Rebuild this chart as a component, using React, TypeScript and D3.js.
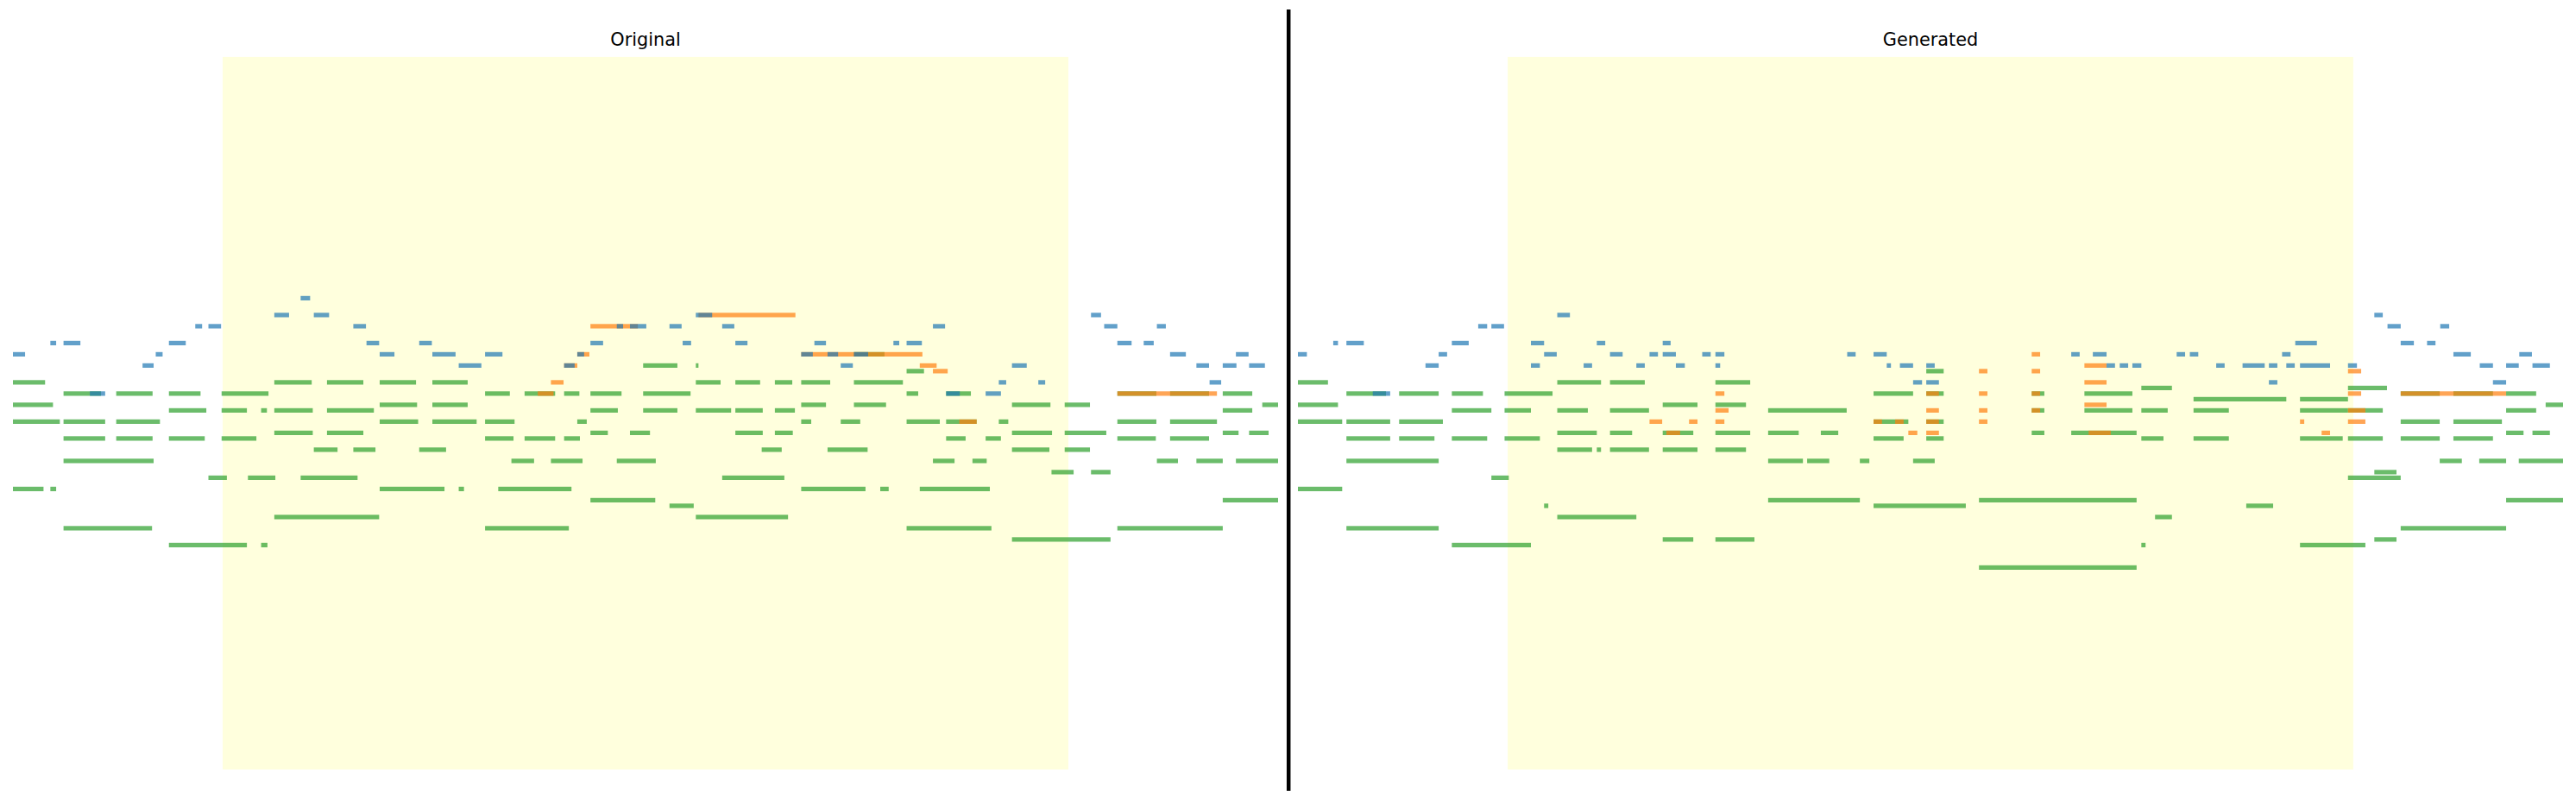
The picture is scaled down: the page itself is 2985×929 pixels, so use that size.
import React from "react";
import * as d3 from "d3";

// note = [midi pitch, start (beats), end (beats)]
type Note = [number, number, number];

const WIDTH = 2985;
const HEIGHT = 929;
const AXES = { top: 65.9, bottom: 891.4 };
const PITCH_RANGE: [number, number] = [0, 127];
const BAR_HEIGHT = 0.8; // in semitones

const TRACK_COLORS = { melody: "#1f77b4", counter: "#ff7f0e", piano: "#2ca02c" };

// ---------------- Original ----------------
const originalMelody: Note[] = [
  [84, 5.5, 5.68],
  [81, 5.0, 5.28], [81, 5.75, 6.04], [81, 13.0, 13.31], [81, 20.5, 20.69],
  [79, 3.5, 3.63], [79, 3.75, 3.99], [79, 6.5, 6.74], [79, 11.5, 11.62], [79, 11.75, 12.06],
  [79, 12.5, 12.73], [79, 13.5, 13.73], [79, 17.5, 17.73], [79, 20.75, 21.0], [79, 21.75, 21.92],
  [76, 0.75, 0.86], [76, 1.0, 1.32], [76, 3.0, 3.32], [76, 6.75, 6.99], [76, 7.75, 7.99],
  [76, 11.0, 11.24], [76, 12.75, 12.91], [76, 13.75, 13.98], [76, 15.25, 15.47], [76, 16.75, 16.86],
  [76, 17.0, 17.29], [76, 21.0, 21.27], [76, 21.5, 21.69],
  [74, 0.04, 0.27], [74, 2.75, 2.88], [74, 7.0, 7.28], [74, 8.0, 8.44], [74, 9.0, 9.33],
  [74, 10.75, 10.88], [74, 15.0, 15.22], [74, 15.5, 15.7], [74, 16.0, 16.27], [74, 22.0, 22.3],
  [74, 23.25, 23.49],
  [72, 2.5, 2.71], [72, 8.5, 8.93], [72, 10.5, 10.7], [72, 15.75, 15.98], [72, 19.0, 19.28],
  [72, 22.5, 22.74], [72, 23.0, 23.26], [72, 23.5, 23.8],
  [69, 18.75, 18.89], [69, 19.5, 19.63], [69, 22.75, 22.97],
  [67, 1.5, 1.79], [67, 17.75, 18.01], [67, 18.5, 18.79],
];

const originalCounter: Note[] = [
  [81, 13.05, 14.89], [79, 11.0, 11.9], [74, 10.75, 10.98], [74, 15.0, 17.3],
  [72, 10.5, 10.75], [72, 17.25, 17.57], [71, 17.5, 17.78], [69, 10.25, 10.49],
  [67, 10.0, 10.3], [67, 21.0, 22.89], [62, 18.0, 18.33],
];

const originalPiano: Note[] = [
  [74, 16.0, 16.58],
  [72, 12.0, 12.65], [72, 13.0, 13.05],
  [71, 17.0, 17.33],
  [69, 0.04, 0.65], [69, 5.0, 5.71], [69, 6.0, 6.69], [69, 7.0, 7.69], [69, 8.0, 8.67],
  [69, 13.0, 13.47], [69, 13.75, 14.22], [69, 14.5, 14.83], [69, 15.0, 15.55], [69, 16.0, 16.93],
  [67, 1.0, 1.71], [67, 2.0, 2.69], [67, 3.0, 3.6], [67, 4.0, 4.89], [67, 9.0, 9.47],
  [67, 9.75, 10.33], [67, 10.5, 10.79], [67, 11.0, 11.59], [67, 12.0, 12.9], [67, 17.0, 17.22],
  [67, 17.75, 18.22], [67, 21.0, 21.74], [67, 22.0, 22.74], [67, 23.0, 23.56],
  [65, 0.04, 0.8], [65, 7.0, 7.71], [65, 8.0, 8.67], [65, 15.0, 15.47], [65, 16.0, 16.61],
  [65, 19.0, 19.73], [65, 20.0, 20.48], [65, 23.75, 24.05],
  [64, 3.0, 3.71], [64, 4.0, 4.48], [64, 4.75, 4.86], [64, 5.0, 5.73], [64, 6.0, 6.89],
  [64, 11.0, 11.52], [64, 12.0, 12.65], [64, 13.0, 13.67], [64, 13.75, 14.27], [64, 14.5, 14.88],
  [64, 23.0, 23.56],
  [62, 0.04, 0.93], [62, 1.0, 1.79], [62, 2.0, 2.83], [62, 7.0, 7.73], [62, 8.0, 8.84],
  [62, 9.0, 9.56], [62, 10.75, 10.93], [62, 15.0, 15.19], [62, 15.75, 16.12], [62, 17.0, 17.63],
  [62, 17.75, 18.33], [62, 18.75, 18.93], [62, 21.0, 21.74], [62, 22.0, 22.89],
  [60, 5.0, 5.73], [60, 6.0, 6.69], [60, 11.0, 11.33], [60, 11.75, 12.13], [60, 13.75, 14.27],
  [60, 14.5, 14.84], [60, 19.0, 19.76], [60, 20.0, 20.79], [60, 23.0, 23.3], [60, 23.5, 23.87],
  [59, 1.0, 1.79], [59, 2.0, 2.69], [59, 3.0, 3.68], [59, 4.0, 4.66], [59, 9.0, 9.54],
  [59, 9.75, 10.33], [59, 10.5, 10.8], [59, 17.75, 18.12], [59, 18.5, 18.79], [59, 21.0, 21.73],
  [59, 22.0, 22.74],
  [57, 5.75, 6.2], [57, 6.5, 6.92], [57, 7.75, 8.26], [57, 14.25, 14.63], [57, 15.5, 16.26],
  [57, 19.0, 19.71], [57, 20.0, 20.48],
  [55, 1.0, 2.71], [55, 9.5, 9.93], [55, 10.25, 10.85], [55, 11.5, 12.24], [55, 17.5, 17.91],
  [55, 18.25, 18.52], [55, 21.75, 22.15], [55, 22.5, 23.0], [55, 23.25, 24.05],
  [53, 19.75, 20.17], [53, 20.5, 20.87],
  [52, 3.75, 4.1], [52, 4.5, 5.02], [52, 5.5, 6.58], [52, 13.5, 14.68],
  [50, 0.04, 0.62], [50, 0.75, 0.86], [50, 7.0, 8.23], [50, 8.5, 8.6], [50, 9.25, 10.64],
  [50, 15.0, 16.22], [50, 16.5, 16.66], [50, 17.25, 18.58],
  [48, 11.0, 12.23], [48, 23.0, 24.05],
  [47, 12.5, 12.96],
  [45, 5.0, 6.99], [45, 13.0, 14.75],
  [43, 1.0, 2.68], [43, 9.0, 10.59], [43, 17.0, 18.61], [43, 21.0, 23.0],
  [41, 19.0, 20.87],
  [40, 3.0, 4.48], [40, 4.75, 4.87],
];

// ---------------- Generated ----------------
const generatedMelody: Note[] = [
  [81, 5.0, 5.24], [81, 20.5, 20.66],
  [79, 3.5, 3.67], [79, 3.75, 3.99], [79, 20.75, 21.0], [79, 21.75, 21.92],
  [76, 0.75, 0.84], [76, 1.0, 1.33], [76, 3.0, 3.32], [76, 4.5, 4.75], [76, 5.75, 5.91],
  [76, 7.0, 7.15], [76, 19.0, 19.41], [76, 21.0, 21.25], [76, 21.5, 21.66],
  [74, 0.08, 0.25], [74, 2.75, 2.91], [74, 4.75, 4.99], [74, 6.0, 6.24], [74, 6.75, 6.91],
  [74, 7.0, 7.25], [74, 7.75, 7.91], [74, 8.0, 8.17], [74, 10.5, 10.66], [74, 11.0, 11.25],
  [74, 14.75, 14.91], [74, 15.16, 15.42], [74, 16.75, 16.91], [74, 17.0, 17.16], [74, 18.75, 18.91],
  [74, 22.0, 22.33], [74, 23.25, 23.49],
  [72, 2.5, 2.75], [72, 4.5, 4.67], [72, 5.5, 5.66], [72, 6.5, 6.66], [72, 7.25, 7.42],
  [72, 8.0, 8.09], [72, 11.25, 11.33], [72, 11.5, 11.75], [72, 12.0, 12.16], [72, 15.42, 15.58],
  [72, 15.67, 15.83], [72, 15.91, 16.08], [72, 17.5, 17.66], [72, 18.0, 18.42], [72, 18.5, 18.66],
  [72, 18.83, 18.99], [72, 19.09, 19.66], [72, 20.0, 20.17], [72, 22.5, 22.75], [72, 23.0, 23.24],
  [72, 23.5, 23.83],
  [69, 11.75, 11.92], [69, 12.0, 12.24], [69, 18.5, 18.66], [69, 22.75, 23.0],
  [67, 1.5, 1.83],
];

const generatedCounter: Note[] = [
  [74, 14.0, 14.16],
  [72, 15.0, 15.42],
  [71, 13.0, 13.16], [71, 14.0, 14.16], [71, 20.0, 20.25],
  [69, 15.0, 15.42],
  [67, 8.0, 8.17], [67, 12.0, 12.24], [67, 13.0, 13.16], [67, 14.0, 14.16], [67, 20.0, 20.25],
  [67, 21.0, 23.0],
  [65, 15.0, 15.42],
  [64, 8.0, 8.25], [64, 12.0, 12.24], [64, 13.0, 13.16], [64, 14.0, 14.16], [64, 20.0, 20.33],
  [62, 6.75, 6.99], [62, 7.5, 7.66], [62, 8.0, 8.17], [62, 11.0, 11.16], [62, 11.41, 11.57],
  [62, 12.0, 12.24], [62, 13.0, 13.16], [62, 19.09, 19.17], [62, 20.0, 20.33],
  [60, 7.07, 7.33], [60, 11.66, 11.83], [60, 12.0, 12.24], [60, 15.08, 15.5], [60, 19.5, 19.66],
];

const generatedPiano: Note[] = [
  [71, 12.0, 12.33],
  [69, 0.08, 0.65], [69, 5.0, 5.83], [69, 6.0, 6.66], [69, 8.0, 8.66],
  [68, 16.08, 16.66], [68, 20.0, 20.74],
  [67, 1.0, 1.75], [67, 2.0, 2.75], [67, 3.0, 3.59], [67, 4.0, 4.91], [67, 11.0, 11.75],
  [67, 12.0, 12.33], [67, 14.0, 14.24], [67, 15.0, 15.91], [67, 21.0, 21.74], [67, 22.0, 22.75],
  [67, 23.0, 23.57],
  [66, 17.07, 18.83], [66, 19.09, 20.0],
  [65, 0.08, 0.84], [65, 7.0, 7.66], [65, 8.0, 8.58], [65, 23.75, 24.08],
  [64, 3.0, 3.75], [64, 4.0, 4.5], [64, 5.0, 5.58], [64, 6.0, 6.74], [64, 9.0, 10.49],
  [64, 14.0, 14.24], [64, 15.0, 15.91], [64, 16.08, 16.58], [64, 17.07, 17.74], [64, 19.09, 20.0],
  [64, 20.0, 20.66], [64, 23.0, 23.57],
  [62, 0.08, 0.92], [62, 1.0, 1.83], [62, 2.0, 2.83], [62, 11.0, 11.66], [62, 12.0, 12.33],
  [62, 21.0, 21.74], [62, 22.0, 22.92],
  [60, 5.0, 5.75], [60, 6.0, 6.42], [60, 7.0, 7.58], [60, 8.0, 8.66], [60, 9.0, 9.58],
  [60, 10.0, 10.33], [60, 14.0, 14.24], [60, 14.75, 15.99], [60, 23.0, 23.33], [60, 23.5, 23.83],
  [59, 1.0, 1.83], [59, 2.0, 2.67], [59, 3.0, 3.67], [59, 4.0, 4.67], [59, 11.0, 11.57],
  [59, 12.0, 12.33], [59, 16.08, 16.5], [59, 17.07, 17.74], [59, 19.09, 19.9], [59, 20.0, 20.66],
  [59, 21.0, 21.74], [59, 22.0, 22.75],
  [57, 5.0, 5.66], [57, 5.75, 5.83], [57, 6.0, 6.74], [57, 7.0, 7.66], [57, 8.0, 8.58],
  [55, 1.0, 2.75], [55, 9.0, 9.66], [55, 9.74, 10.16], [55, 10.74, 10.92], [55, 11.75, 12.16],
  [55, 21.74, 22.16], [55, 22.49, 23.0], [55, 23.24, 24.08],
  [53, 20.5, 20.92],
  [52, 3.75, 4.08], [52, 20.0, 21.0],
  [50, 0.08, 0.92],
  [48, 9.0, 10.74], [48, 13.0, 15.99], [48, 23.0, 24.08],
  [47, 4.75, 4.83], [47, 11.0, 12.75], [47, 18.07, 18.58],
  [45, 5.0, 6.5], [45, 16.34, 16.66],
  [43, 1.0, 2.75], [43, 21.0, 23.0],
  [41, 7.0, 7.58], [41, 8.0, 8.74], [41, 20.5, 20.92],
  [40, 3.0, 4.5], [40, 16.08, 16.16], [40, 19.09, 20.33],
  [36, 13.0, 15.99],
];

// masked (infilled) span, in each panel's beats
const maskOriginal: [number, number] = [4.02, 20.07];
const maskGenerated: [number, number] = [4.06, 20.1];

type PanelProps = {
  title: string;
  left: number;
  right: number;
  mask: [number, number];
  melody: Note[];
  counter: Note[];
  piano: Note[];
};

const PianoRoll = ({ title, left, right, mask, melody, counter, piano }: PanelProps) => {
  const all = [...melody, ...counter, ...piano];
  const x = d3
    .scaleLinear()
    .domain([d3.min(all, (d) => d[1]) as number, d3.max(all, (d) => d[2]) as number])
    .range([left, right]);
  const y = d3.scaleLinear().domain(PITCH_RANGE).range([AXES.bottom, AXES.top]);

  // draw order: piano underneath, then counter, melody on top
  const tracks = [
    { notes: piano, color: TRACK_COLORS.piano },
    { notes: counter, color: TRACK_COLORS.counter },
    { notes: melody, color: TRACK_COLORS.melody },
  ];

  return (
    <g>
      <rect
        x={x(mask[0])}
        y={AXES.top}
        width={x(mask[1]) - x(mask[0])}
        height={AXES.bottom - AXES.top}
        fill="#ffffdd"
      />
      {tracks.map((t, ti) => (
        <g key={ti}>
          {t.notes.map((n, i) => (
            <rect
              key={i}
              x={x(n[1])}
              y={y(n[0] + BAR_HEIGHT / 2)}
              width={x(n[2]) - x(n[1])}
              height={y(n[0] - BAR_HEIGHT / 2) - y(n[0] + BAR_HEIGHT / 2)}
              fill={t.color}
              fillOpacity={0.7}
            />
          ))}
        </g>
      ))}
      <text
        x={(left + right) / 2}
        y={53}
        textAnchor="middle"
        fontFamily="DejaVu Sans"
        fontSize={20.8}
        fill="#000"
      >
        {title}
      </text>
    </g>
  );
};

export default function App() {
  return (
    <svg
      width={WIDTH}
      height={HEIGHT}
      style={{ position: "absolute", left: 0, top: 0 }}
    >
      <rect width={WIDTH} height={HEIGHT} fill="#fff" />
      <PianoRoll
        title="Original"
        left={15}
        right={1481}
        mask={maskOriginal}
        melody={originalMelody}
        counter={originalCounter}
        piano={originalPiano}
      />
      <PianoRoll
        title="Generated"
        left={1504}
        right={2970}
        mask={maskGenerated}
        melody={generatedMelody}
        counter={generatedCounter}
        piano={generatedPiano}
      />
      <line x1={1493.2} x2={1493.2} y1={11} y2={916} stroke="#000" strokeWidth={4.5} />
    </svg>
  );
}
